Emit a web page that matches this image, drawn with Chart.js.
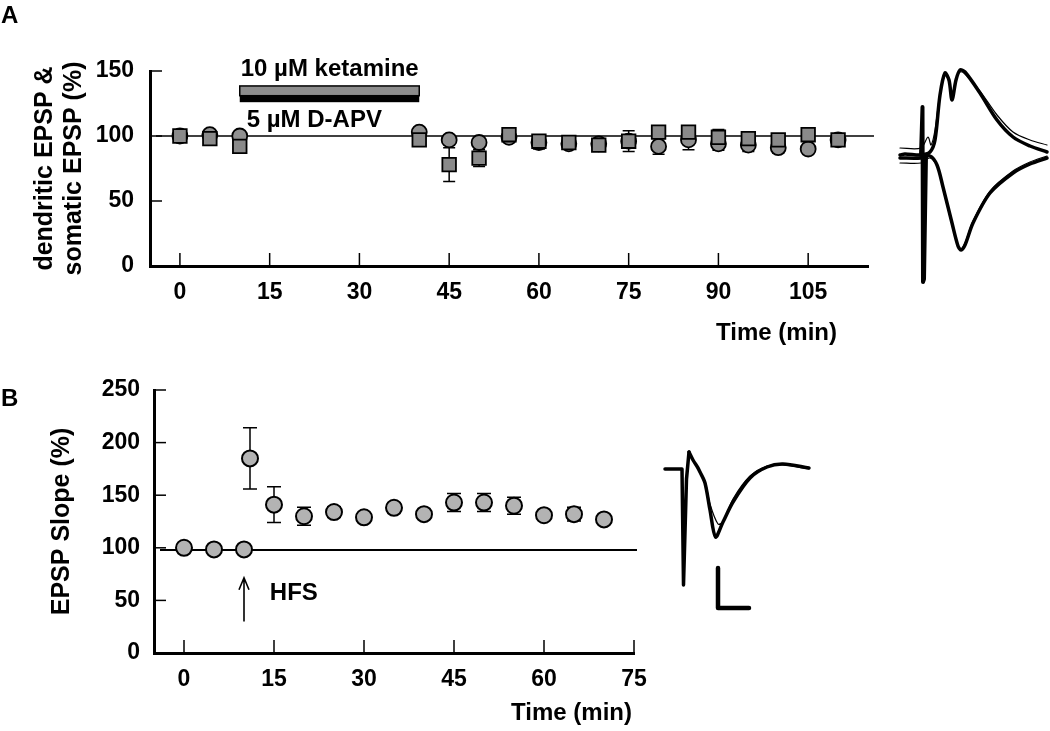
<!DOCTYPE html>
<html>
<head>
<meta charset="utf-8">
<script src="https://cdn.jsdelivr.net/npm/chart.js@4.4.1/dist/chart.umd.min.js"></script>
<style>
  html, body { margin: 0; padding: 0; background: #fff; }
  body { width: 1050px; height: 731px; position: relative; overflow: hidden; }
  canvas { position: absolute; }
</style>
</head>
<body>
<canvas id="chartA" width="880" height="360" style="left:0;top:0"></canvas>
<canvas id="traceA" width="155" height="235" style="left:895px;top:60px"></canvas>
<canvas id="chartB" width="660" height="371" style="left:0;top:360px"></canvas>
<canvas id="traceB" width="160" height="180" style="left:660px;top:440px"></canvas>
<script>
// Panel A: dendritic (circles) and somatic (squares) EPSP, % of baseline
var timeA = [0, 5, 10, 40, 45, 50, 55, 60, 65, 70, 75, 80, 85, 90, 95, 100, 105, 110];
var dendriticA = [100, 101, 100, 103, 97, 95, 99, 95, 94, 94, 96, 92, 97, 94, 93, 91, 90, 97];
var dendriticErrA = [2, 2, 2, 2, 2, 3, 3, 5, 3, 2, 3, 6, 7.5, 5, 5, 4, 3, 3];
var somaticA = [100, 98, 92, 97, 78, 83, 101, 96, 95, 93, 96, 103, 103, 99, 98, 97, 101, 97];
var somaticErrA = [2, 2, 3, 3, 13, 6.5, 4, 3, 3, 2, 8, 3, 4, 6, 5, 3, 3, 4];
var xTicksA = [0, 15, 30, 45, 60, 75, 90, 105];
var yTicksA = [0, 50, 100, 150];
var baselineA = 100;
var drugStart = 10;
var drugEnd = 40;

// Panel B: EPSP slope, % of baseline, HFS at 10 min
var timeB = [0, 5, 10, 11, 15, 20, 25, 30, 35, 40, 45, 50, 55, 60, 65, 70];
var slopeB = [100, 98.5, 98.5, 185, 141, 130, 134, 129, 138, 132, 143, 143, 140, 131, 132, 127];
var slopeErrB = [1, 1, 1, 29, 17, 8.5, 5, 2, 4.5, 2, 8.5, 8.5, 8, 2, 6.5, 2];
var xTicksB = [0, 15, 30, 45, 60, 75];
var yTicksB = [0, 50, 100, 150, 200, 250];
var baselineB = 98;
var hfsTime = 10;

// Example traces, inset of A (t in ms, v in mV, arbitrary offset)
var trAupT = [0, 1, 4.2, 6, 7, 8, 9, 9.8, 10.4, 11.2, 12, 13, 16, 19.4, 22.6, 26, 29.4];
var trAupV = [0, 0.1, 0, 0.3, 1.5, 6, 8.2, 7.5, 5.5, 7.5, 8.5, 8.3, 6.2, 3.5, 1.8, 0.9, 0.3];
var trAupThinT = [0, 4.2, 5.6, 6.2, 7, 8, 9, 9.8, 10.4, 11.2, 12, 13, 16, 19.4, 22.6, 26, 29.4];
var trAupThinV = [0.7, 0.7, 1.8, 1.0, 2.5, 6.2, 8.0, 7.3, 5.8, 7.6, 8.3, 8.1, 6.4, 4.0, 2.3, 1.5, 1.0];
var trAlowT = [0, 4.2, 6, 7.4, 8.6, 10.4, 11.6, 12.2, 13, 14.6, 18, 22.6, 26, 29.4];
var trAlowV = [-0.3, -0.3, -0.1, -1, -3.2, -6.8, -9.1, -9.5, -9, -6.8, -3.8, -1.8, -0.9, -0.3];
var trAlowThinV = [-0.8, -0.8, -0.3, -1.1, -3.4, -7.0, -9.2, -9.4, -8.8, -6.6, -3.6, -1.6, -0.7, -0.1];
var trAartT = [4.2, 4.5, 4.6, 4.8, 5.2];
var trAartV = [0, 4.8, -12.7, -12.4, 0];

// Example traces, inset of B
var trBartT = [0, 3.4, 3.7, 4.3, 4.8];
var trBartV = [0, 0, -11.6, -1, 1.7];
var trBT = [4.8, 5.6, 6.6, 7, 8, 9, 10.1, 11.6, 13.6, 17, 20.4, 23.6, 28.8];
var trBV = [1.7, 0.9, 0.1, -0.3, -1.4, -4.1, -6.8, -5.3, -3.3, -0.9, 0.2, 0.5, 0.1];
var trBThinT = [4.8, 5.6, 6.6, 7, 8, 9, 10.6, 11.6, 13.6, 17, 20.4, 23.6, 28.8];
var trBThinV = [1.5, 0.8, 0.1, -0.3, -1.2, -3.5, -5.5, -5.3, -3.0, -0.7, 0.3, 0.4, 0.0];
var scaleBarT = [10.6, 10.6, 16.8];
var scaleBarV = [-9.9, -13.9, -13.9];

var FONT = '"Liberation Sans", Arial, sans-serif';

function toPoints(xs, ys) {
  return xs.map(function(x, i) { return { x: x, y: ys[i] }; });
}

function fixedTicks(list) {
  return function(scale) {
    scale.ticks = list.map(function(v) { return { value: v }; });
  };
}

// tick marks pointing into the plot, error bars, x title, panel letter
var figurePlugin = {
  id: 'figure',
  beforeDatasetsDraw: function(chart, args, opts) {
    var ctx = chart.ctx, a = chart.chartArea;
    var sx = chart.scales.x, sy = chart.scales.y;
    ctx.save();
    ctx.strokeStyle = '#000';
    ctx.lineWidth = 1.5;
    sx.ticks.forEach(function(t) {
      var px = sx.getPixelForValue(t.value);
      ctx.beginPath(); ctx.moveTo(px, a.bottom); ctx.lineTo(px, a.bottom - 13); ctx.stroke();
    });
    sy.ticks.forEach(function(t) {
      var py = sy.getPixelForValue(t.value);
      ctx.beginPath(); ctx.moveTo(a.left, py); ctx.lineTo(a.left + 12, py); ctx.stroke();
    });

    chart.data.datasets.forEach(function(ds) {
      if (!ds.errors) return;
      ds.data.forEach(function(p, i) {
        var e = ds.errors[i];
        var px = sx.getPixelForValue(p.x);
        var top = sy.getPixelForValue(p.y + e), bot = sy.getPixelForValue(p.y - e);
        ctx.beginPath();
        ctx.moveTo(px, top); ctx.lineTo(px, bot);
        ctx.moveTo(px - opts.cap, top); ctx.lineTo(px + opts.cap, top);
        ctx.moveTo(px - opts.cap, bot); ctx.lineTo(px + opts.cap, bot);
        ctx.stroke();
      });
    });
    ctx.restore();
  },
  afterDraw: function(chart, args, opts) {
    var ctx = chart.ctx, a = chart.chartArea;
    ctx.save();
    ctx.fillStyle = '#000';
    ctx.textBaseline = 'alphabetic';
    ctx.font = 'bold 24px ' + FONT;
    ctx.textAlign = 'right';
    ctx.fillText('Time (min)', a.right - opts.titleRight, a.bottom + opts.titleDown);
    ctx.font = 'bold 24px ' + FONT;
    ctx.textAlign = 'left';
    ctx.fillText(opts.letter, 1, opts.letterY);
    ctx.restore();
  }
};

// drug application bars of panel A
var drugPlugin = {
  id: 'drug',
  afterDatasetsDraw: function(chart) {
    var ctx = chart.ctx;
    var sx = chart.scales.x, sy = chart.scales.y;
    var x0 = sx.getPixelForValue(drugStart), x1 = sx.getPixelForValue(drugEnd);
    var gTop = sy.getPixelForValue(138.5), gBot = sy.getPixelForValue(131);
    var bBot = sy.getPixelForValue(126);
    ctx.save();
    ctx.fillStyle = '#000';
    ctx.fillRect(x0, gBot, x1 - x0, bBot - gBot);
    ctx.fillStyle = '#8c8c8c';
    ctx.strokeStyle = '#000';
    ctx.lineWidth = 1.5;
    ctx.fillRect(x0, gTop, x1 - x0, gBot - gTop);
    ctx.strokeRect(x0, gTop, x1 - x0, gBot - gTop);
    ctx.fillStyle = '#000';
    ctx.font = 'bold 24px ' + FONT;
    ctx.textAlign = 'left';
    ctx.textBaseline = 'alphabetic';
    ctx.fillText('10 \u00b5M ketamine', x0 + 1, gTop - 10);
    ctx.fillText('5 \u00b5M D-APV', x0 + 7, bBot + 25);
    ctx.restore();
  }
};

// HFS arrow of panel B
var hfsPlugin = {
  id: 'hfs',
  afterDatasetsDraw: function(chart) {
    var ctx = chart.ctx;
    var sx = chart.scales.x, sy = chart.scales.y;
    var px = sx.getPixelForValue(hfsTime);
    var y0 = sy.getPixelForValue(30), y1 = sy.getPixelForValue(71.5);
    ctx.save();
    ctx.strokeStyle = '#000';
    ctx.lineWidth = 1.6;
    ctx.beginPath();
    ctx.moveTo(px, y0); ctx.lineTo(px, y1);
    ctx.moveTo(px - 5, y1 + 12); ctx.lineTo(px, y1); ctx.lineTo(px + 5, y1 + 12);
    ctx.stroke();
    ctx.fillStyle = '#000';
    ctx.font = 'bold 24px ' + FONT;
    ctx.textAlign = 'left';
    ctx.fillText('HFS', sx.getPixelForValue(14.3), sy.getPixelForValue(50.6));
    ctx.restore();
  }
};

function axisX(ticks, min, max, height) {
  return {
    type: 'linear', min: min, max: max,
    afterBuildTicks: fixedTicks(ticks),
    afterFit: function(s) { s.height = height; },
    grid: { display: false, drawTicks: false },
    border: { display: true, color: '#000', width: 3 },
    ticks: { color: '#000', font: { family: FONT, size: 23, weight: 'bold' }, padding: 13, maxRotation: 0, autoSkip: false }
  };
}

function axisY(ticks, max, width, pad, title, titlePad) {
  return {
    min: 0, max: max,
    afterBuildTicks: fixedTicks(ticks),
    afterFit: function(s) { s.width = width; },
    grid: { display: false, drawTicks: false },
    border: { display: true, color: '#000', width: 3 },
    ticks: { color: '#000', font: { family: FONT, size: 23, weight: 'bold' }, padding: pad, autoSkip: false },
    title: { display: true, text: title, color: '#000', font: { family: FONT, size: 25, weight: 'bold', lineHeight: 1.16 }, padding: { top: titlePad, bottom: 0 } }
  };
}

new Chart(document.getElementById('chartA'), {
  type: 'scatter',
  data: {
    datasets: [
      { label: 'somatic EPSP', data: toPoints(timeA, somaticA), errors: somaticErrA,
        pointStyle: 'rect', pointRadius: 9.6, backgroundColor: '#8a8a8a', borderColor: '#000', borderWidth: 1.8, order: 0 },
      { label: 'dendritic EPSP', data: toPoints(timeA, dendriticA), errors: dendriticErrA,
        pointStyle: 'circle', pointRadius: 7.5, backgroundColor: '#909090', borderColor: '#000', borderWidth: 1.8, order: 1 },
      { type: 'line', label: 'baseline', data: [{ x: -4, y: baselineA }, { x: 116, y: baselineA }],
        borderColor: '#000', borderWidth: 1.6, pointRadius: 0, clip: false, order: 2 }
    ]
  },
  options: {
    responsive: false, animation: false, events: [],
    layout: { padding: { top: 71, right: 12, left: 0, bottom: 0 } },
    plugins: {
      legend: { display: false }, tooltip: { enabled: false },
      figure: { cap: 6, titleRight: 31, titleDown: 74, letter: 'A', letterY: 23 }
    },
    scales: {
      x: axisX(xTicksA, -5, 115, 94),
      y: axisY(yTicksA, 150, 150, 16, ['dendritic EPSP &', 'somatic EPSP (%)'], 31)
    }
  },
  plugins: [figurePlugin, drugPlugin]
});

new Chart(document.getElementById('chartB'), {
  type: 'scatter',
  data: {
    datasets: [
      { label: 'EPSP slope', data: toPoints(timeB, slopeB), errors: slopeErrB,
        pointStyle: 'circle', pointRadius: 8, backgroundColor: '#b3b3b3', borderColor: '#000', borderWidth: 2, order: 0 },
      { type: 'line', label: 'baseline', data: [{ x: -4, y: baselineB }, { x: 75.5, y: baselineB }],
        borderColor: '#000', borderWidth: 2, pointRadius: 0, clip: false, order: 1 }
    ]
  },
  options: {
    responsive: false, animation: false, events: [],
    layout: { padding: { top: 30, right: 26, left: 0, bottom: 0 } },
    plugins: {
      legend: { display: false }, tooltip: { enabled: false },
      figure: { cap: 7, titleRight: 2, titleDown: 67, letter: 'B', letterY: 46 }
    },
    scales: {
      x: axisX(xTicksB, -5, 75, 78),
      y: axisY(yTicksB, 250, 154, 14, 'EPSP Slope (%)', 48)
    }
  },
  plugins: [figurePlugin, hfsPlugin]
});

function traceLine(ts, vs, width, tension) {
  return { data: toPoints(ts, vs), borderColor: '#000', borderWidth: width, pointRadius: 0,
           tension: tension, clip: false, borderJoinStyle: 'round', borderCapStyle: 'round' };
}

function traceOptions(xmin, xmax, ymin, ymax) {
  return {
    responsive: false, animation: false, events: [],
    layout: { padding: 0 },
    plugins: { legend: { display: false }, tooltip: { enabled: false } },
    scales: {
      x: { type: 'linear', min: xmin, max: xmax, display: false },
      y: { type: 'linear', min: ymin, max: ymax, display: false }
    }
  };
}

new Chart(document.getElementById('traceA'), {
  type: 'line',
  data: {
    datasets: [
      traceLine(trAupThinT, trAupThinV, 1.2, 0.3),
      traceLine(trAlowT, trAlowThinV, 1.2, 0.3),
      traceLine(trAupT, trAupV, 3.5, 0.3),
      traceLine(trAlowT, trAlowV, 3.5, 0.3),
      traceLine(trAartT, trAartV, 4, 0)
    ]
  },
  options: traceOptions(-1, 30, -14, 9.5)
});

new Chart(document.getElementById('traceB'), {
  type: 'line',
  data: {
    datasets: [
      traceLine(trBThinT, trBThinV, 1.2, 0.3),
      traceLine(trBT, trBV, 3.5, 0.3),
      traceLine(trBartT, trBartV, 3.5, 0),
      traceLine(scaleBarT, scaleBarV, 4.5, 0)
    ]
  },
  options: traceOptions(-1, 31, -15.1, 2.9)
});
</script>
</body>
</html>
